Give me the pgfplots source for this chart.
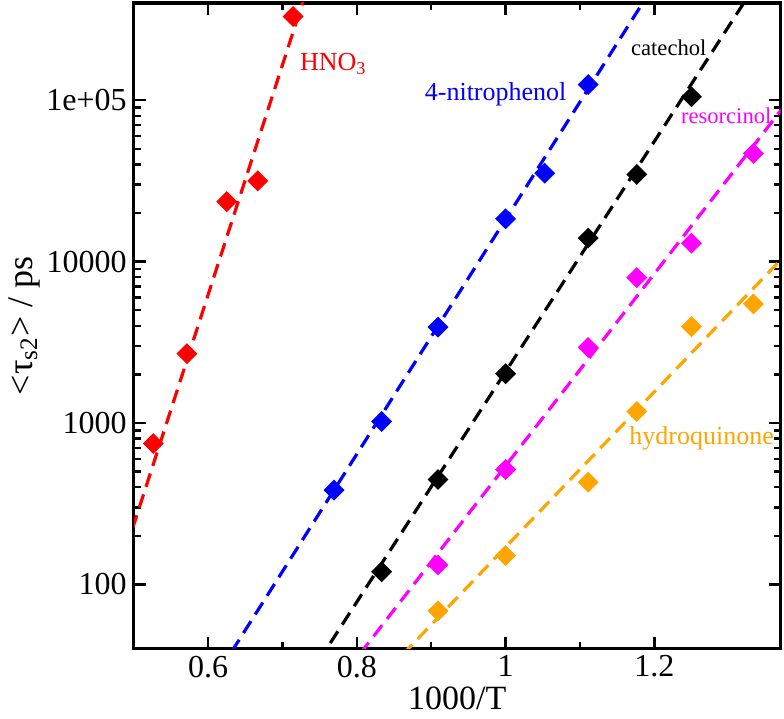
\documentclass[border=0pt]{standalone}
\usepackage{pgfplots}
\pgfplotsset{compat=1.18}
\usepackage{fontspec}
\setmainfont{Liberation Serif}
\definecolor{myorange}{RGB}{255,165,0}
\definecolor{mymagenta}{RGB}{255,0,255}
\definecolor{myred}{RGB}{255,0,0}
\definecolor{myblue}{RGB}{0,0,255}
\begin{document}
\begin{tikzpicture}
\begin{axis}[
  scale only axis,
  width=323.45pt, height=322.85pt,
  ymode=log,
  xmin=0.5, xmax=1.37,
  ymin=40, ymax=400000,
  xtick={0.6,0.8,1,1.2},
  minor x tick num=1,
  ytick={100,1000,10000,100000},
  yticklabels={100,1000,10000,1e+05},
  /pgf/number format/assume math mode=true,
  tick label style={font=\fontsize{16}{19}\selectfont},
  axis line style={line width=1.6pt},
  tick style={line width=1.2pt, black},
  major tick length=6pt,
  minor tick length=3.5pt,
  tick align=inside,
  xlabel={1000/T},
  ylabel={<τ\textsubscript{s2}> / ps},
  xlabel style={font=\fontsize{17}{20}\selectfont, at={(axis description cs:0.5,-0.077)}, anchor=center},
  ylabel style={font=\fontsize{18}{21}\selectfont, at={(axis description cs:-0.1697,0.5)}, anchor=center},
  every axis plot/.append style={line width=1.6pt},
]
% fitted lines
\addplot[myred, dash pattern=on 7pt off 4pt, no marks] coordinates {(0.48,122) (0.75,855000)};
\addplot[myblue, dash pattern=on 7pt off 4pt, no marks] coordinates {(0.6,22.6) (1.25,1200000)};
\addplot[black, dash pattern=on 7pt off 4pt, no marks] coordinates {(0.7,15.1) (1.4,1480000)};
\addplot[mymagenta, dash pattern=on 7pt off 4pt, no marks] coordinates {(0.75,17.7) (1.4,130000)};
\addplot[myorange, dash pattern=on 7pt off 4pt, no marks] coordinates {(0.8,18.6) (1.4,14300)};
% data points
\addplot[only marks, mark=square*, mark size=2.9pt, myred, mark options={rotate=45, solid}] coordinates {
(0.5263,746) (0.5714,2690) (0.625,23500) (0.6667,31600) (0.7143,330000)};
\addplot[only marks, mark=square*, mark size=2.9pt, myblue, mark options={rotate=45, solid}] coordinates {
(0.7692,384) (0.8333,1023) (0.9091,3930) (1.0,18400) (1.0526,35300) (1.1111,125000)};
\addplot[only marks, mark=square*, mark size=2.9pt, black, mark options={rotate=45, solid}] coordinates {
(0.8333,120) (0.9091,447) (1.0,2020) (1.1111,14000) (1.1765,34700) (1.25,105000)};
\addplot[only marks, mark=square*, mark size=2.9pt, mymagenta, mark options={rotate=45, solid}] coordinates {
(0.9091,132) (1.0,515) (1.1111,2940) (1.1765,7960) (1.25,13000) (1.3333,46800)};
\addplot[only marks, mark=square*, mark size=2.9pt, myorange, mark options={rotate=45, solid}] coordinates {
(0.9091,68.6) (1.0,151) (1.1111,430) (1.1765,1180) (1.25,3960) (1.3333,5470)};
% labels
\node[anchor=base west, inner sep=0pt, myred, font=\fontsize{13}{15}\selectfont] at (axis cs:0.7231,153300) {HNO\textsubscript{3}};
\node[anchor=base west, inner sep=0pt, myblue, font=\fontsize{13}{15}\selectfont] at (axis cs:0.8909,99000) {4-nitrophenol};
\node[anchor=base west, inner sep=0pt, black, font=\fontsize{11.3}{13}\selectfont] at (axis cs:1.1683,187900) {catechol};
\node[anchor=base west, inner sep=0pt, mymagenta, font=\fontsize{11.3}{13}\selectfont] at (axis cs:1.2354,71800) {resorcinol};
\node[anchor=base west, inner sep=0pt, myorange, font=\fontsize{13}{15}\selectfont] at (axis cs:1.166,734) {hydroquinone};
\end{axis}
\pgfresetboundingbox
\path ([xshift=-66.9pt,yshift=-35.15pt]current axis.south west) rectangle ([xshift=1.65pt,yshift=1.5pt]current axis.north east);
\end{tikzpicture}
\end{document}
